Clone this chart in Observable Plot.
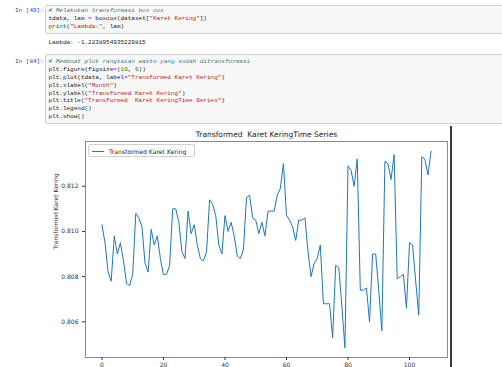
<!DOCTYPE html>
<html><head><meta charset="utf-8">
<script src="https://cdn.jsdelivr.net/npm/d3@7"></script>
<script src="https://cdn.jsdelivr.net/npm/@observablehq/plot@0.6"></script>
<style>
html,body{margin:0;padding:0;background:#fff;}
body{width:502px;height:367px;overflow:hidden;position:relative;}
.abs{position:absolute;}
.mono{font-family:"Liberation Mono","DejaVu Sans Mono",monospace;font-size:6px;white-space:pre;}
.prompt{color:#303F9F;}
.cell{position:absolute;left:45px;width:470px;background:#f7f7f7;border:1px solid #cfcfcf;border-radius:2px;box-sizing:border-box;}
.code{line-height:7.95px;color:#222;}
.c{color:#408080;font-style:italic}
.s{color:#BA2121}
.o{color:#AA22FF}
.n{color:#008800}
.k{color:#008000}
#legend{position:absolute;left:88px;top:144px;width:107px;height:13px;box-sizing:border-box;border:1px solid #d0d0d0;border-radius:2px;background:rgba(255,255,255,0.85);font-family:"DejaVu Sans";font-size:6.1px;color:#222;}
#legend .sw{position:absolute;left:3px;top:5.5px;width:12px;height:1px;background:#1f77b4;}
#legend .lt{position:absolute;left:20px;top:2.5px;white-space:pre;}
#vline{position:absolute;left:450px;top:126px;width:2px;height:241px;background:#3a3a3a;}
#chart{position:absolute;left:0;top:125px;}
</style></head>
<body>
<div class="abs mono prompt" style="left:15px;top:7px;">In [49]:</div>
<div class="cell" style="top:5px;height:29px;"></div>
<div class="abs mono code" style="left:48.5px;top:6.8px;"><span class="c"># Melakukan transformasi box cox</span>
tdata, lam <span class="o">=</span> boxcox(dataset[<span class="s">"Karet Kering"</span>])
<span class="k">print</span>(<span class="s">"Lambda:"</span>, lam)</div>
<div class="abs mono" style="left:48.5px;top:38.5px;color:#222;">Lambda: -1.2238954935229815</div>

<div class="abs mono prompt" style="left:15px;top:58px;">In [84]:</div>
<div class="cell" style="top:54px;height:69.5px;"></div>
<div class="abs mono code" style="left:48.5px;top:57.7px;"><span class="c"># Membuat plot rangkaian waktu yang sudah ditransformasi</span>
plt.figure(figsize<span class="o">=</span>(<span class="n">10</span>, <span class="n">6</span>))
plt.plot(tdata, label<span class="o">=</span><span class="s">"Transformed Karet Kering"</span>)
plt.xlabel(<span class="s">"Month"</span>)
plt.ylabel(<span class="s">"Transformed Karet Kering"</span>)
plt.title(<span class="s">"Transformed  Karet KeringTime Series"</span>)
plt.legend()
plt.show()</div>

<div id="chart"></div>
<div id="legend"><div class="sw"></div><div class="lt" id="legendText"></div></div>
<div id="vline"></div>

<script>
const title = "Transformed  Karet KeringTime Series";
const yLabel = "Transformed Karet Kering";
const seriesName = "Transformed Karet Kering";
const xTicks = [0, 20, 40, 60, 80, 100];
const yTicks = [0.806, 0.808, 0.810, 0.812];
const values = [
  0.8103, 0.8095, 0.8082, 0.8078, 0.8098, 0.8090, 0.8095, 0.8087, 0.8077, 0.8076,
  0.8081, 0.8108, 0.8106, 0.8102, 0.8086, 0.8082, 0.8101, 0.8094, 0.8098, 0.8088,
  0.8081, 0.8081, 0.8085, 0.8110, 0.8110, 0.8104, 0.8091, 0.8088, 0.8109, 0.8099,
  0.8103, 0.8094, 0.8088, 0.8087, 0.8091, 0.8114, 0.8112, 0.8107, 0.8094, 0.8090,
  0.8107, 0.8100, 0.8104, 0.8098, 0.8089, 0.8088, 0.8092, 0.8115, 0.8116, 0.8106,
  0.8105, 0.8099, 0.8104, 0.8098, 0.8109, 0.8109, 0.8109, 0.8116, 0.8119, 0.8130,
  0.8107, 0.8105, 0.8102, 0.8096, 0.8105, 0.8105, 0.8106, 0.8091, 0.8080, 0.8086,
  0.8088, 0.8094, 0.8068, 0.8068, 0.8068, 0.8053, 0.8085, 0.8084, 0.8067, 0.80485,
  0.8129, 0.8127, 0.8120, 0.8132, 0.8074, 0.8074, 0.8075, 0.8060, 0.8090, 0.8090,
  0.8074, 0.8056, 0.8131, 0.8130, 0.8123, 0.8134, 0.8079, 0.8080, 0.8081, 0.8066,
  0.8095, 0.8094, 0.8078, 0.8063, 0.8133, 0.8132, 0.8125, 0.81355
];

document.getElementById("legendText").textContent = seriesName;

const chart = Plot.plot({
  width: 502, height: 242,
  marginLeft: 85, marginRight: 55, marginTop: 16, marginBottom: 10,
  style: {fontFamily: "DejaVu Sans", fontSize: "6px", background: "transparent", color: "#333", overflow: "visible"},
  x: {domain: [-5.35, 112.35], label: null},
  y: {domain: [0.80442, 0.81398], label: null},
  marks: [
    Plot.frame({stroke: "#8a8a8a"}),
    Plot.axisX({ticks: xTicks, tickSize: 3, tickPadding: 2, label: null}),
    Plot.axisY({ticks: yTicks, tickFormat: d3.format(".3f"), tickSize: 3, tickPadding: 4, label: null}),
    Plot.lineY(values, {stroke: "#1f77b4", strokeWidth: 1}),
    Plot.text([title], {frameAnchor: "top", lineAnchor: "bottom", dy: -4.5, fontSize: 7.5, fill: "#222"}),
    Plot.text([yLabel], {frameAnchor: "left", rotate: -90, dx: -29, fontSize: 6, fill: "#333"})
  ]
});
document.getElementById("chart").appendChild(chart);
</script>
</body></html>
